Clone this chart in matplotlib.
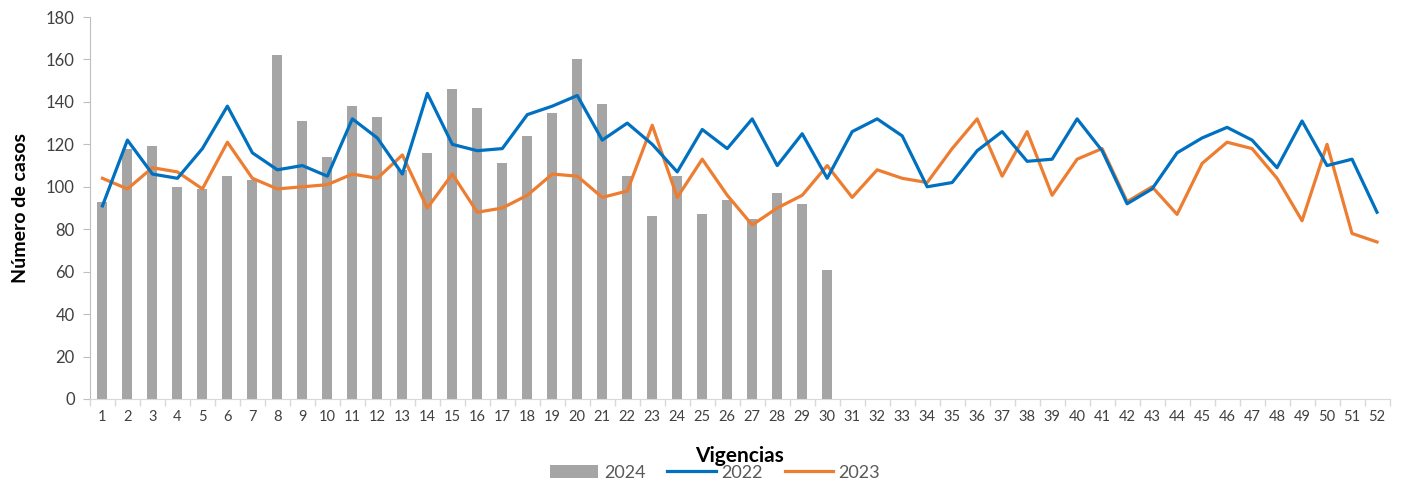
import matplotlib.pyplot as plt
import numpy as np

plt.rcParams['font.family'] = ['Lato', 'DejaVu Sans']

semanas = np.arange(1, 53)

casos_2024 = [93, 118, 119, 100, 99, 105, 103, 162, 131, 114, 138, 133, 108, 116, 146,
              137, 111, 124, 135, 160, 139, 105, 86, 105, 87, 94, 85, 97, 92, 61]

casos_2022 = [91, 122, 106, 104, 118, 138, 116, 108, 110, 105, 132, 123, 106, 144, 120,
              117, 118, 134, 138, 143, 122, 130, 120, 107, 127, 118, 132, 110, 125, 104,
              126, 132, 124, 100, 102, 117, 126, 112, 113, 132, 117, 92, 99, 116, 123,
              128, 122, 109, 131, 110, 113, 88]

casos_2023 = [104, 99, 109, 107, 99, 121, 104, 99, 100, 101, 106, 104, 115, 90, 106,
              88, 90, 96, 106, 105, 95, 98, 129, 95, 113, 96, 82, 90, 96, 110,
              95, 108, 104, 102, 118, 132, 105, 126, 96, 113, 118, 93, 100, 87, 111,
              121, 118, 104, 84, 120, 78, 74]

fig = plt.figure(figsize=(14.01, 4.82), dpi=100)
ax = fig.add_axes([0.0642, 0.1722, 0.9276, 0.7925])

barras = ax.bar(semanas[:len(casos_2024)], casos_2024, width=0.4, color='#A5A5A5', label='2024', zorder=1)
l22, = ax.plot(semanas, casos_2022, color='#0070C0', lw=2.3, label='2022', zorder=3)
l23, = ax.plot(semanas, casos_2023, color='#ED7D31', lw=2.3, label='2023', zorder=2)

ax.set_xlim(0.5, 52.5)
ax.set_ylim(0, 180)
ax.set_yticks(range(0, 181, 20))
ax.set_xticks(semanas)
ax.set_xticks(np.arange(0.5, 53, 1), minor=True)
ax.tick_params(axis='x', which='major', length=0, labelsize=10.5, labelcolor='#404040', pad=8)
ax.tick_params(axis='x', which='minor', length=5, color='#D9D9D9', width=1)
ax.tick_params(axis='y', length=5, color='#BFBFBF', labelsize=12, labelcolor='#404040', pad=6)

for s in ['top', 'right']:
    ax.spines[s].set_visible(False)
ax.spines['left'].set_color('#BFBFBF')
ax.spines['bottom'].set_color('#D9D9D9')

ax.set_xlabel('Vigencias', fontsize=15, fontweight='bold', labelpad=16)
ax.set_ylabel('Número de casos', fontsize=14, fontweight='bold', labelpad=12)

ax.legend(handles=[barras, l22, l23], loc='center', bbox_to_anchor=(0.481, -0.193), ncol=3,
          frameon=False, fontsize=13, handlelength=2.7, columnspacing=1.2, handletextpad=0.3,
          labelcolor='#595959')

fig.savefig('out.png', dpi=100)
